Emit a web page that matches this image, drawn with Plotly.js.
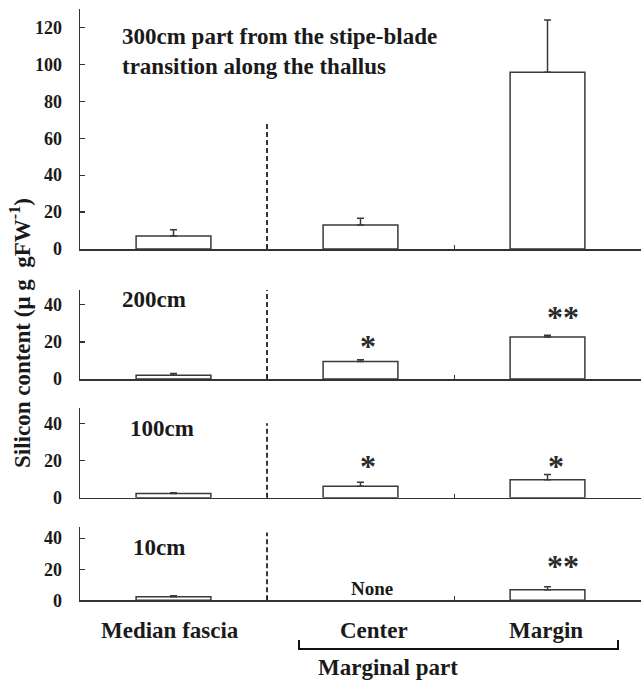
<!DOCTYPE html>
<html><head><meta charset="utf-8">
<script src="https://cdn.plot.ly/plotly-3.0.1.min.js"></script>
<style>html,body{margin:0;padding:0;background:#fff}</style>
</head><body><div id="chart" style="width:641px;height:684px"></div>
<script>
// ---- data ----
const categories = ['Median fascia', 'Center', 'Margin'];
const panelLabels = ['300cm part from the stipe-blade<br>transition along the thallus', '200cm', '100cm', '10cm'];
const values300 = [7.0, 13.0, 95.8];
const errors300 = [3.4, 3.6, 28.2];
const values200 = [2.0, 9.4, 22.7];
const errors200 = [0.9, 1.0, 0.9];
const values100 = [2.2, 6.2, 9.7];
const errors100 = [0.5, 2.1, 2.7];
const values10 = [2.3, null, 6.8];
const errors10 = [0.7, null, 2.0];
const yRangeMax = [130, 48, 48, 47];
const yTicks300 = [0, 20, 40, 60, 80, 100, 120];
const yTicksSmall = [0, 20, 40];
const dividerTops = [69, 48, 40, 43.6];
const sig200 = ['', '*', '**'];
const sig100 = ['', '*', '*'];
const sig10 = ['', '', '**'];
const noneLabel = 'None';
const groupLabel = 'Marginal part';
const yTitle = 'Silicon content (μ g  gFW<sup>-1</sup>)';

// ---- layout / styling ----
const W = 641, H = 684, L = 80;
const serif = 'Liberation Serif';
const ink = '#1a1a1a';
const px2py = p => 1 - p / H;          // page pixel y -> paper y
const px2px = p => (p - L) / (W - L);  // page pixel x -> paper x

const values = [values300, values200, values100, values10];
const errors = [errors300, errors200, errors100, errors10];
const sigs = [null, sig200, sig100, sig10];
const domainsPx = [[249, 9], [379, 290], [497.7, 408.3], [600.3, 527.3]];
const sigY = [null, [null, 20.5, 36.4], [null, 19.8, 19.8], [null, null, 25.4]];
const labelPx = [[120, 52], [120, 299], [128, 428], [131, 547]];
const labelSize = [23, 23, 23, 23];

const traces = [], layout = {
  width: W, height: H, showlegend: false,
  margin: {l: L, r: 0, t: 0, b: 0},
  paper_bgcolor: '#fff', plot_bgcolor: 'rgba(0,0,0,0)',
  annotations: [], shapes: []
};

values.forEach((vals, i) => {
  const n = i === 0 ? '' : String(i + 1);
  traces.push({
    type: 'bar', x: categories, y: vals,
    xaxis: 'x' + n, yaxis: 'y' + n,
    width: 0.4,
    marker: {color: '#ffffff', line: {color: '#3a3a3a', width: 1.5}},
    error_y: {type: 'data', symmetric: false, array: errors[i], arrayminus: errors[i].map(() => 0),
      color: '#3a3a3a', thickness: 1.5, width: 3.5},
    hoverinfo: 'skip'
  });
  layout['xaxis' + n] = {
    domain: [0, 1], anchor: 'y' + n, type: 'category', range: [-0.5, 2.5],
    showline: true, linecolor: '#333', linewidth: 1.5,
    ticks: 'inside', tickson: 'boundaries', ticklen: 4, tickcolor: '#333', tickwidth: 1,
    showticklabels: false, showgrid: false, zeroline: false, fixedrange: true
  };
  const d = domainsPx[i];
  layout['yaxis' + n] = {
    domain: [px2py(d[0]), px2py(d[1])], anchor: 'x' + n,
    range: [0, yRangeMax[i]],
    tickmode: 'array', tickvals: i === 0 ? yTicks300 : yTicksSmall,
    ticks: 'inside', ticklen: 5, tickcolor: '#333', tickwidth: 1.2,
    ticklabelstandoff: 13,
    showline: true, linecolor: '#333', linewidth: 1.5,
    showgrid: false, zeroline: false, fixedrange: true,
    tickfont: {family: serif, size: 18, color: ink, weight: 'bold'}
  };
  // dashed separator between median fascia and marginal part
  layout.shapes.push({type: 'line', xref: 'x' + n, yref: 'y' + n, x0: 0.5, x1: 0.5, y0: 0, y1: dividerTops[i],
    line: {color: '#222', width: 1.8, dash: '5px,3px'}});
  // panel label
  layout.annotations.push({xref: 'paper', yref: 'paper', x: px2px(labelPx[i][0]), y: px2py(labelPx[i][1]),
    xanchor: 'left', yanchor: 'middle', align: 'left', showarrow: false, text: panelLabels[i],
    font: {family: serif, size: labelSize[i], color: ink, weight: 'bold'}});
  // significance marks
  if (sigs[i]) sigs[i].forEach((s, j) => {
    if (!s) return;
    const shift = s.length > 1 ? 15 : (j === 1 ? 7 : 8);
    layout.annotations.push({xref: 'x' + n, yref: 'y' + n, x: categories[j], y: sigY[i][j], xshift: shift, yshift: -5,
      showarrow: false, text: s, yanchor: 'middle', font: {family: serif, size: 32, color: '#2a2a2a', weight: 'bold'}});
  });
});

// "None" in 10cm panel
layout.annotations.push({xref: 'x4', yref: 'y4', x: categories[1], y: 7.9, xshift: 11, showarrow: false, text: noneLabel,
  yanchor: 'middle', font: {family: serif, size: 19, color: ink, weight: 'bold'}});

// category labels
const catShift = [-4, 13, -2];
categories.forEach((c, j) => {
  layout.annotations.push({xref: 'x4', yref: 'paper', x: c, y: px2py(630), xshift: catShift[j], showarrow: false,
    text: c, yanchor: 'middle', font: {family: serif, size: 23, color: ink, weight: 'bold'}});
});

// bracket for "Marginal part"
const bx0 = px2px(299), bx1 = px2px(618), byTop = px2py(640), byBot = px2py(649);
layout.shapes.push({type: 'path', xref: 'paper', yref: 'paper',
  path: `M ${bx0},${byTop} L ${bx0},${byBot} L ${bx1},${byBot} L ${bx1},${byTop}`,
  line: {color: '#111', width: 2}});
layout.annotations.push({xref: 'paper', yref: 'paper', x: px2px(460), y: px2py(667), showarrow: false,
  text: groupLabel, yanchor: 'middle', font: {family: serif, size: 23, color: ink, weight: 'bold'}});

// y-axis title
layout.annotations.push({xref: 'paper', yref: 'paper', x: px2px(20), y: px2py(333), showarrow: false,
  text: yTitle, textangle: -90, xanchor: 'center', yanchor: 'middle',
  font: {family: serif, size: 23, color: ink, weight: 'bold'}});

Plotly.newPlot('chart', traces, layout, {staticPlot: true, displayModeBar: false});
</script></body></html>
